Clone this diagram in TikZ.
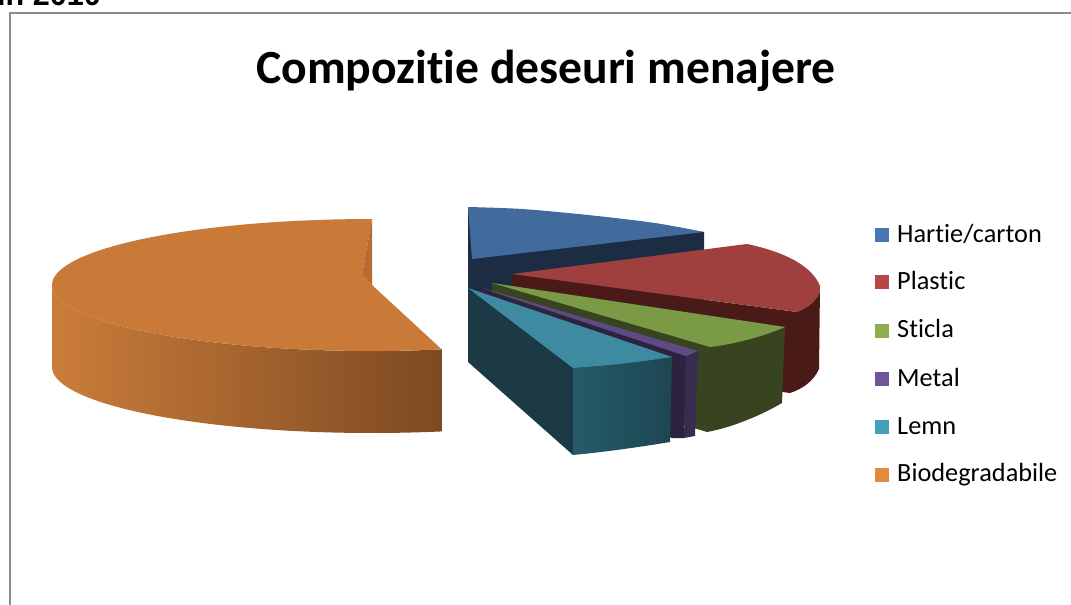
\documentclass[tikz,border=0pt]{standalone}
\usepackage{fontspec}
\newfontfamily\calibri[RawFeature={-liga}]{Carlito}
\newfontfamily\arialf{Liberation Sans}
\definecolor{framegray}{HTML}{8C8C8C}
\definecolor{bluetop}{HTML}{416B9C}
\definecolor{bluedark}{HTML}{1B2C43}
\definecolor{redtop}{HTML}{9F403E}
\definecolor{reddark}{HTML}{4A1A19}
\definecolor{greentop}{HTML}{7A9A46}
\definecolor{greendark}{HTML}{37441F}
\definecolor{purptop}{HTML}{5E4A86}
\definecolor{purpdark}{HTML}{2C2340}
\definecolor{purpout}{HTML}{382C51}
\definecolor{tealtop}{HTML}{3E8BA1}
\definecolor{tealdark}{HTML}{1C3A46}
\definecolor{tealoutA}{HTML}{255B6A}
\definecolor{tealoutB}{HTML}{1E4652}
\definecolor{ortop}{HTML}{C97A38}
\definecolor{orsliver}{HTML}{B66C30}
\definecolor{orsideA}{HTML}{CB7C3A}
\definecolor{orsideM}{HTML}{B26B31}
\definecolor{orsideB}{HTML}{7C4A22}
\definecolor{lgblue}{HTML}{4877B4}
\definecolor{lgred}{HTML}{B64645}
\definecolor{lggreen}{HTML}{8FAE50}
\definecolor{lgpurp}{HTML}{70559A}
\definecolor{lgteal}{HTML}{42A0B8}
\definecolor{lgorange}{HTML}{E48A3E}
\begin{document}
\begin{tikzpicture}[x=1pt,y=-1pt,
  legsq/.style={minimum size=14pt, inner sep=0pt, draw=none},
  legtxt/.style={anchor=base west, inner sep=0pt, font=\calibri\fontsize{26.3}{28}\selectfont}]
\useasboundingbox (0,0) rectangle (1071,605);
\fill[white] (0,0) rectangle (1071,605);
% frame
\draw[framegray, line width=2pt] (9.5,606) -- (9.5,13) -- (1072,13);
% header text (cut off at the top edge, as in the reference)
\node[anchor=base west, inner sep=0pt, font=\arialf\bfseries\fontsize{30.6}{32}\selectfont] (yr) at (-3,5.5) {in 2010};
% title
\node[anchor=base, inner sep=0pt, font=\calibri\bfseries\fontsize{47.6}{50}\selectfont] (title) at (546,83) {Compozitie deseuri menajere};

% ---- blue slice (Hartie/carton)
\fill[bluedark] (468,207) -- (468,294) -- (704,300) -- (704,232) -- cycle;
\fill[bluetop] (472,259) -- plot[smooth] coordinates {(468,207) (522,209) (588,215) (655,223) (704,232)} -- cycle;

% ---- red slice (Plastic)
\fill[reddark] (512,274) -- (797,312) .. controls (811,306) and (821,297) .. (820,286)
   -- (819,369) .. controls (813,382) and (802,389) .. (790,393) -- (512,356) -- cycle;
\fill[redtop] (512,274) -- (747,244) .. controls (785,252) and (812,266) .. (820,286)
   .. controls (821,297) and (811,306) .. (797,312) -- cycle;

% ---- green slice (Sticla)
\fill[greendark] (492,283) -- (785,327) -- (782,403) .. controls (760,416) and (730,428) .. (707,432) -- (492,366) -- cycle;
\fill[greentop] (492,283) -- (785,327) .. controls (765,336) and (735,344) .. (710,347) -- cycle;

% ---- metal slice
\fill[purpdark] (479,288) -- (686,356) -- (684,438) -- (672,438) -- (470,362) -- cycle;
\fill[purpout] (686,356) -- (698,351) -- (695,436) -- (684,438) -- cycle;
\fill[purptop] (479,287) -- (698,351) -- (686,356) -- cycle;

% ---- lemn slice
\fill[tealdark] (468,288) -- (573,368) -- (573,455) -- (468,362) -- cycle;
\shade[left color=tealoutA, right color=tealoutB] (573,368) .. controls (605,366) and (640,362) .. (672,357)
   -- (670,442) .. controls (640,447) and (605,452) .. (573,455) -- cycle;
\fill[tealtop] (468,288) -- (672,357) .. controls (640,362) and (605,366) .. (573,368) -- cycle;

% ---- orange slice (Biodegradabile)
\shade[left color=orsideA, middle color=orsideM, right color=orsideB]
   plot[domain=180:77.4, samples=60] ({372+320*cos(\x)},{285+66*sin(\x)})
   -- plot[domain=77.4:180, samples=60] ({372+320*cos(\x)},{367+66*sin(\x)}) -- cycle;
\fill[ortop] (372,285) -- (362,275) -- (372,219)
   -- plot[domain=270:77.4, samples=90] ({372+320*cos(\x)},{285+66*sin(\x)}) -- cycle;
\fill[orsliver] (372,219) -- (362,275) -- (372,285) -- cycle;

% ---- legend
\node[legsq, fill=lgblue]   (s1) at (882,235.3) {};
\node[legsq, fill=lgred]    (s2) at (882,282) {};
\node[legsq, fill=lggreen]  (s3) at (882,330.7) {};
\node[legsq, fill=lgpurp]   (s4) at (882,379) {};
\node[legsq, fill=lgteal]   (s5) at (882,427.3) {};
\node[legsq, fill=lgorange] (s6) at (882,474.7) {};
\node[legtxt] (t1) at (897,242.3) {Hartie/carton};
\node[legtxt] (t2) at (897,289) {Plastic};
\node[legtxt] (t3) at (897,337.7) {Sticla};
\node[legtxt] (t4) at (897,386) {Metal};
\node[legtxt] (t5) at (897,434.3) {Lemn};
\node[legtxt] (t6) at (897,481.7) {Biodegradabile};
\end{tikzpicture}
\end{document}
